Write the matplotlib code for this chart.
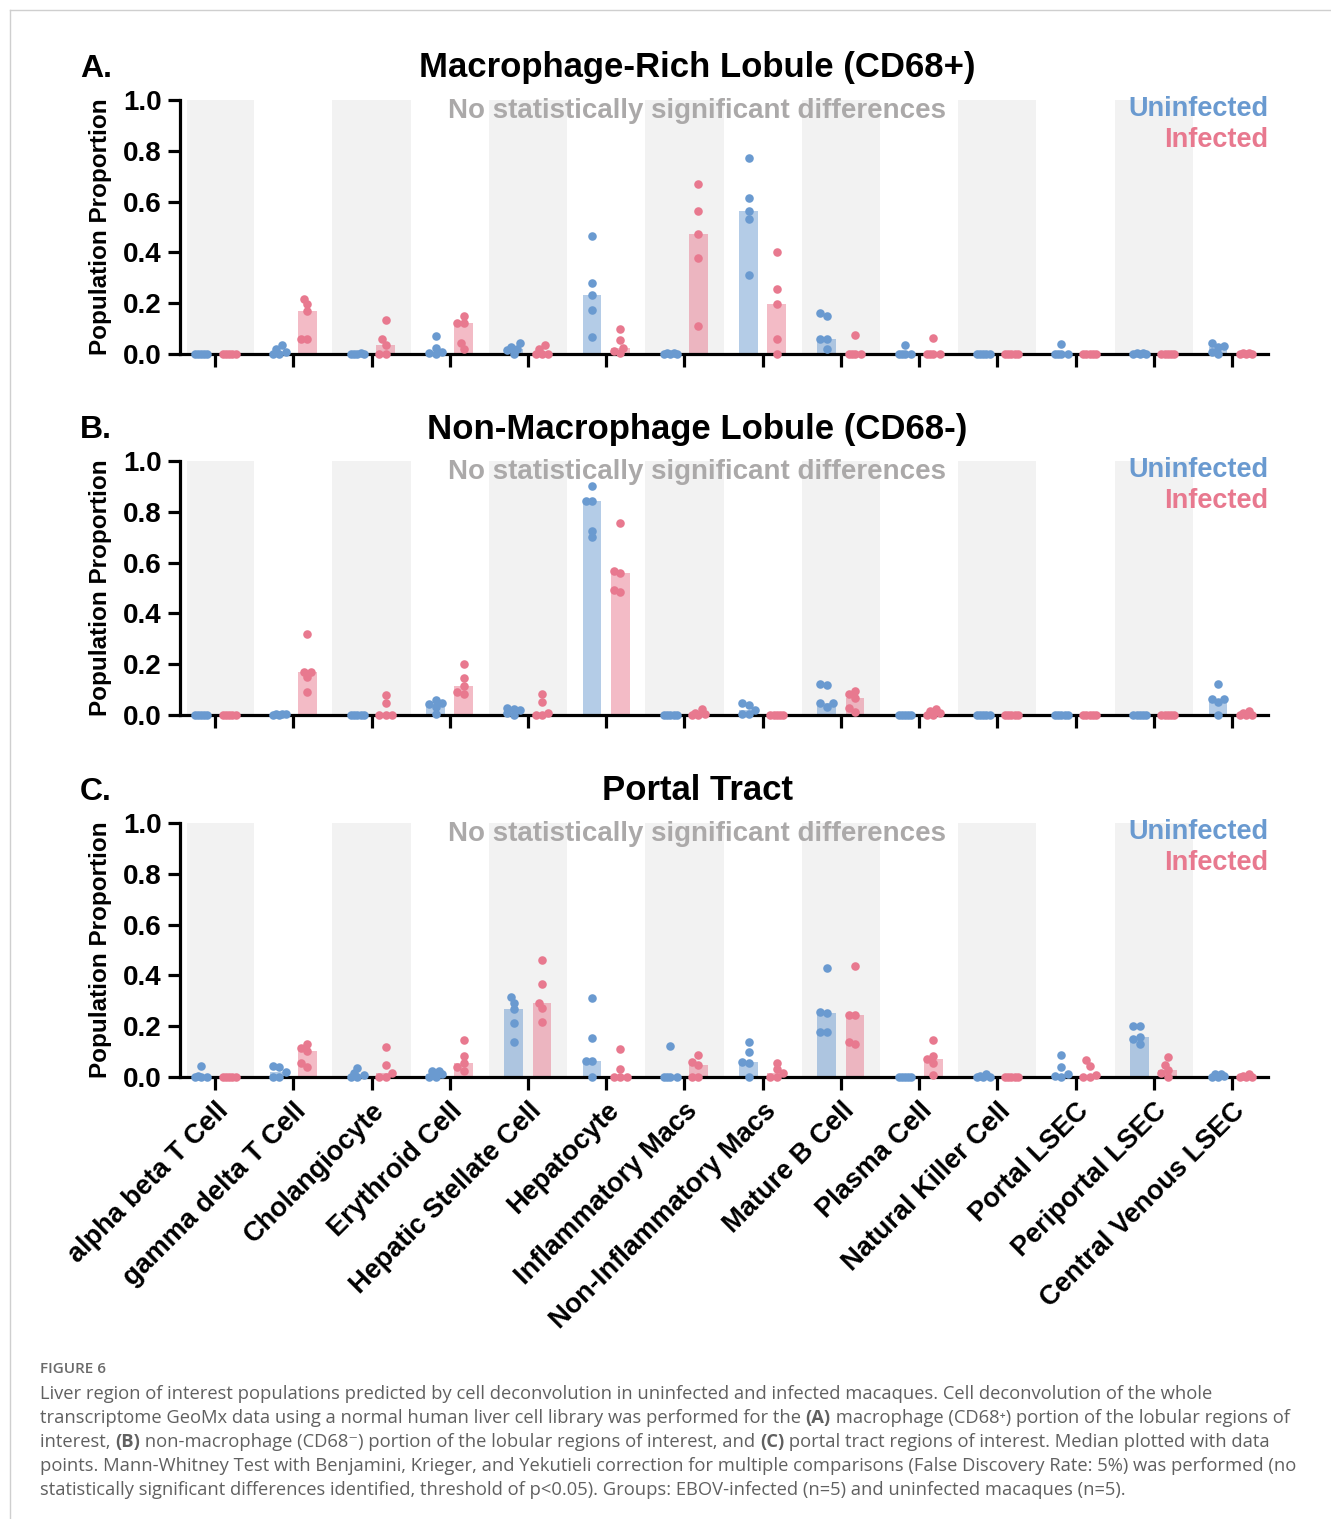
import numpy as np
import matplotlib
matplotlib.use("Agg")
import matplotlib.pyplot as plt
from matplotlib.lines import Line2D

W, H = 1331, 1519

cell_types = [
    "alpha beta T Cell", "gamma delta T Cell", "Cholangiocyte", "Erythroid Cell",
    "Hepatic Stellate Cell", "Hepatocyte", "Inflammatory Macs",
    "Non-Inflammatory Macs", "Mature B Cell", "Plasma Cell",
    "Natural Killer Cell", "Portal LSEC", "Periportal LSEC", "Central Venous LSEC",
]
Z = [0, 0, 0, 0, 0]

# A. Macrophage-Rich Lobule (CD68+)
a_uninf = [
    Z, [0.037, 0.02, 0.007, 0, 0], [0.005, 0, 0, 0, 0], [0.069, 0.022, 0.007, 0.004, 0],
    [0.043, 0.026, 0.02, 0.017, 0], [0.465, 0.278, 0.231, 0.174, 0.067], [0.005, 0.005, 0, 0, 0],
    [0.77, 0.613, 0.562, 0.53, 0.31], [0.161, 0.148, 0.058, 0.058, 0.021], [0.035, 0, 0, 0, 0],
    Z, [0.04, 0, 0, 0, 0], [0.005, 0.005, 0, 0, 0], [0.045, 0.031, 0.026, 0.009, 0],
]
a_inf = [
    Z, [0.218, 0.196, 0.17, 0.059, 0.059], [0.132, 0.059, 0.037, 0, 0], [0.149, 0.124, 0.122, 0.043, 0.02],
    [0.037, 0.02, 0, 0, 0], [0.098, 0.054, 0.024, 0.01, 0.003], [0.67, 0.563, 0.472, 0.379, 0.11],
    [0.403, 0.257, 0.197, 0.06, 0], [0.076, 0, 0, 0, 0], [0.064, 0, 0, 0, 0],
    Z, Z, Z, [0.005, 0.003, 0, 0, 0],
]

# B. Non-Macrophage Lobule (CD68-)
b_uninf = [
    Z, [0.005, 0.005, 0.003, 0, 0], Z, [0.058, 0.046, 0.042, 0.033, 0.005],
    [0.026, 0.022, 0.018, 0.009, 0], [0.9, 0.844, 0.844, 0.726, 0.701], Z,
    [0.049, 0.038, 0.02, 0.003, 0.003], [0.123, 0.118, 0.046, 0.046, 0.031], Z,
    Z, Z, Z, [0.121, 0.064, 0.062, 0.051, 0],
]
b_inf = [
    Z, [0.32, 0.17, 0.17, 0.15, 0.092], [0.08, 0.046, 0, 0, 0], [0.2, 0.147, 0.113, 0.092, 0.081],
    [0.084, 0.051, 0.009, 0, 0], [0.756, 0.567, 0.56, 0.492, 0.484], [0.024, 0.009, 0.005, 0, 0],
    Z, [0.096, 0.081, 0.066, 0.028, 0.013], [0.024, 0.016, 0.007, 0, 0],
    Z, Z, Z, [0.017, 0.009, 0, 0, 0],
]

# C. Portal Tract
c_uninf = [
    [0.042, 0.004, 0, 0, 0], [0.045, 0.039, 0.019, 0, 0], [0.036, 0.016, 0.009, 0, 0],
    [0.022, 0.022, 0.013, 0, 0], [0.314, 0.292, 0.266, 0.213, 0.138], [0.312, 0.153, 0.064, 0.062, 0],
    [0.121, 0, 0, 0, 0], [0.136, 0.097, 0.058, 0.056, 0], [0.431, 0.256, 0.253, 0.179, 0.179],
    Z, [0.013, 0.003, 0, 0, 0], [0.088, 0.039, 0.01, 0.004, 0], [0.2, 0.2, 0.156, 0.149, 0.13],
    [0.01, 0.01, 0.005, 0, 0],
]
c_inf = [
    Z, [0.13, 0.113, 0.104, 0.056, 0.039], [0.119, 0.049, 0.016, 0, 0], [0.144, 0.084, 0.055, 0.039, 0.022],
    [0.462, 0.366, 0.292, 0.27, 0.217], [0.109, 0.031, 0, 0, 0], [0.088, 0.061, 0.048, 0, 0],
    [0.056, 0.03, 0.014, 0, 0], [0.436, 0.245, 0.243, 0.139, 0.13], [0.145, 0.081, 0.069, 0.055, 0.006],
    Z, [0.065, 0.043, 0.006, 0, 0], [0.078, 0.048, 0.026, 0.014, 0], [0.01, 0.005, 0, 0, 0],
]

panels = [
    ("A.", "Macrophage-Rich Lobule (CD68+)", a_uninf, a_inf),
    ("B.", "Non-Macrophage Lobule (CD68-)", b_uninf, b_inf),
    ("C.", "Portal Tract", c_uninf, c_inf),
]

BLUE = "#6A9AD0"
PINK = "#E8798F"
BAND = "#F2F2F2"
SIG_GRAY = "#ABA9A9"
FONT = ["Liberation Sans", "DejaVu Sans"]
plt.rcParams["font.family"] = FONT

XLIM = (-0.448, 13.46)
PX_X = 1088 / (XLIM[1] - XLIM[0])
PX_Y = 254.0


def px(x, y):
    return x / W, 1 - y / H


def swarm(vals, step=3.2, r=6.0):
    # simple beeswarm in pixel space, overlap allowed once the slots run out
    vals = np.asarray(vals, dtype=float)
    offs = np.zeros(len(vals))
    placed = []
    for k in np.argsort(vals):
        y = vals[k] * PX_Y
        best, best_d = 0.0, -1.0
        for c in (0, -1, 1, -2, 2):
            dx = c * step
            d = min([np.hypot(dx - a, y - b) for a, b in placed] or [1e9])
            if d >= r:
                best = dx
                break
            if d > best_d:
                best, best_d = dx, d
        placed.append((best, y))
        offs[k] = best / PX_X
    return offs


fig = plt.figure(figsize=(W / 100, H / 100), dpi=100)

# background frame
bg = fig.add_axes([0, 0, 1, 1])
bg.set_xlim(0, W)
bg.set_ylim(H, 0)
bg.axis("off")
bg.add_line(Line2D([10, W], [10, 10], color="#cfcfcf", lw=1))
bg.add_line(Line2D([10, 10], [10, H], color="#cfcfcf", lw=1))

ax_left, ax_right = 180, 1268
zero_y = [354, 715, 1077]
x = np.arange(len(cell_types))

for p, (letter, title, unin, inf) in enumerate(panels):
    y0 = zero_y[p]
    ax = fig.add_axes([ax_left / W, 1 - y0 / H, (ax_right - ax_left) / W, PX_Y / H])
    ax.set_xlim(*XLIM)
    ax.set_ylim(0, 1.0)
    for i in range(0, len(cell_types), 2):
        ax.axvspan(max(i - 0.5, -0.36), i + 0.5, color=BAND, lw=0, zorder=0)

    for i in x:
        for vals, off, col in ((unin[i], -0.18, BLUE), (inf[i], 0.18, PINK)):
            ax.bar(i + off, np.median(vals), width=0.24, color=col, alpha=0.5, lw=0, zorder=1)
            ax.scatter(i + off + swarm(vals), vals, s=38, color=col, lw=0,
                       zorder=4, clip_on=False)

    for s in ("top", "right"):
        ax.spines[s].set_visible(False)
    for s in ("left", "bottom"):
        ax.spines[s].set_linewidth(2.3)
        ax.spines[s].set_zorder(3)
    ax.set_yticks([0, 0.2, 0.4, 0.6, 0.8, 1.0])
    ax.set_yticklabels(["0.0", "0.2", "0.4", "0.6", "0.8", "1.0"])
    ax.set_xticks(x)
    ax.tick_params(axis="both", length=9, width=2.3, pad=4)
    ax.tick_params(axis="y", labelsize=20)
    for t in ax.get_yticklabels():
        t.set_fontweight("bold")
    if p == 2:
        ax.set_xticklabels(cell_types, rotation=45, ha="right", va="top",
                           rotation_mode="anchor", fontsize=19.5, fontweight="bold")
        ax.tick_params(axis="x", pad=6)
    else:
        ax.set_xticklabels([])

    top = y0 - PX_Y
    fig.text(*px(96, top - 31), letter, fontsize=23, fontweight="bold", ha="center", va="center")
    fig.text(*px(697, top - 32), title, fontsize=25, fontweight="bold", ha="center", va="center")
    fig.text(*px(697, top + 11), "No statistically significant differences", fontsize=20,
             fontweight="bold", color=SIG_GRAY, ha="center", va="center")
    fig.text(*px(1268, top + 9), "Uninfected", fontsize=19.5, fontweight="bold",
             color=BLUE, ha="right", va="center")
    fig.text(*px(1268, top + 40), "Infected", fontsize=19.5, fontweight="bold",
             color=PINK, ha="right", va="center")
    fig.text(*px(101, top + 127), "Population Proportion", fontsize=17.5, fontweight="bold",
             rotation=90, ha="center", va="center")

# caption
CAP = ["Open Sans", "DejaVu Sans"]
CAP_COLOR = "#606060"
CAP_SIZE = 13.25
bg.text(40, 1369, "FIGURE 6", fontsize=11, fontweight="semibold", color="#6a6a6a",
        family=CAP, va="center")
caption_lines = [
    [("Liver region of interest populations predicted by cell deconvolution in uninfected "
      "and infected macaques. Cell deconvolution of the whole", "normal")],
    [("transcriptome GeoMx data using a normal human liver cell library was performed for the ", "normal"),
     ("(A)", "bold"), (" macrophage (CD68\u207a) portion of the lobular regions of", "normal")],
    [("interest, ", "normal"), ("(B)", "bold"),
     (" non-macrophage (CD68\u207b) portion of the lobular regions of interest, and ", "normal"),
     ("(C)", "bold"), (" portal tract regions of interest. Median plotted with data", "normal")],
    [("points. Mann-Whitney Test with Benjamini, Krieger, and Yekutieli correction for multiple "
      "comparisons (False Discovery Rate: 5%) was performed (no", "normal")],
    [("statistically significant differences identified, threshold of p<0.05). Groups: "
      "EBOV-infected (n=5) and uninfected macaques (n=5).", "normal")],
]
for k, line in enumerate(caption_lines):
    prev = None
    for seg, weight in line:
        if prev is None:
            prev = bg.text(40, 1399 + 24 * k, seg, fontsize=CAP_SIZE, fontweight=weight,
                           color=CAP_COLOR, family=CAP, va="baseline")
        else:
            prev = bg.annotate(seg, xy=(1, 0), xycoords=prev, va="bottom", ha="left",
                               fontsize=CAP_SIZE, fontweight=weight, color=CAP_COLOR, family=CAP)

fig.savefig("out.png", dpi=100)
